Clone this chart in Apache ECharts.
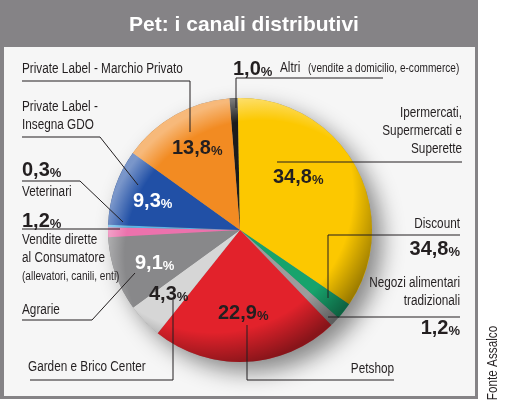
<!DOCTYPE html>
<html>
<head>
<meta charset="utf-8">
<script src="https://cdn.jsdelivr.net/npm/echarts@6/dist/echarts.min.js"></script>
<style>
  html, body { margin: 0; padding: 0; background: #fff; }
  #echart { width: 510px; height: 403px; }
</style>
</head>
<body>
<div id="echart"></div>
<script>
// slices clockwise from the top
const names = [
  'Altri',
  'Ipermercati,\nSupermercati e\nSuperette',
  'Discount',
  'Negozi alimentari\ntradizionali',
  'Petshop',
  'Garden e Brico Center',
  'Agrarie',
  'Vendite dirette\nal Consumatore',
  'Veterinari',
  'Private Label -\nInsegna GDO',
  'Private Label - Marchio Privato'
];
// Discount slice is drawn small in the source, although its label reads 34,8
const values = [1.0, 34.8, 2.1, 1.2, 22.9, 4.3, 9.1, 1.2, 0.3, 9.3, 13.8];
const pctLabels = ['1,0', '34,8', '34,8', '1,2', '22,9', '4,3', '9,1', '1,2', '0,3', '9,3', '13,8'];
const notes = ['(vendite a domicilio, e-commerce)', '', '', '', '', '', '', '(allevatori, canili, enti)', '', '', ''];
const colors = ['#1c1c1c', '#fcc800', '#17a36c', '#9c9c9c', '#e2222b', '#d6d6d6',
  '#88888a', '#ec72ad', '#5ab4e6', '#2150a6', '#f28b22'];

const fontName = '"Liberation Sans Narrow", "Liberation Sans", sans-serif';
const fontPct = '"Liberation Sans", Arial, sans-serif';
// no narrow face installed, so squeeze the labels
const narrow = 0.84;

const layout = [
  { name: [280, 68, 'left'], pct: [233, 68, 'left'], line: [[236, 108], [236, 78], [383, 78]], note: [308, 69] },
  { name: [462, 131, 'right'], pct: [273, 176, 'left'], line: [[277, 162], [462, 162]] },
  { name: [460, 224, 'right'], pct: [460, 248, 'right'], line: [[328, 298], [328, 235], [460, 235]] },
  { name: [460, 292, 'right'], pct: [460, 327, 'right'], line: [[328, 317], [460, 317]] },
  { name: [394, 369, 'right'], pct: [218, 312, 'left'], line: [[247, 325], [247, 380], [394, 380]] },
  { name: [28, 367, 'left'], pct: [149, 293, 'left'], line: [[30, 380], [173, 380], [173, 300]] },
  { name: [22, 310, 'left'], pct: [135, 262, 'left', '#fff'], line: [[22, 320], [92, 320], [135, 273]] },
  { name: [22, 249, 'left'], pct: [22, 220, 'left'], line: [[22, 229], [120, 229]], note: [22, 277] },
  { name: [22, 192, 'left'], pct: [22, 169, 'left'], line: [[22, 181], [80, 181], [123, 222]] },
  { name: [22, 116, 'left'], pct: [133, 200, 'left', '#fff'], line: [[22, 137], [100, 137], [138, 185]] },
  { name: [22, 69, 'left'], pct: [172, 147, 'left'], line: [[22, 81], [190, 81], [190, 132]] }
];

const graphics = [
  { type: 'rect', z: -10, shape: { x: 0, y: 0, width: 478, height: 399 }, style: { fill: '#858386' } },
  { type: 'rect', z: -9, shape: { x: 4, y: 47, width: 471, height: 349 }, style: { fill: '#f6f6f6' } },
  {
    type: 'text', x: 493, y: 363, rotation: Math.PI / 2, scaleX: narrow, z: 100,
    style: { text: 'Fonte Assalco', font: '14px ' + fontName, fill: '#231f20', align: 'center', verticalAlign: 'middle' }
  }
];

layout.forEach((l, i) => {
  graphics.push({
    type: 'polyline', z: 100,
    shape: { points: l.line },
    style: { stroke: '#231f20', lineWidth: 1, fill: null }
  });
  graphics.push({
    type: 'text', x: l.name[0], y: l.name[1], scaleX: narrow, z: 100,
    style: {
      text: names[i], font: '14px ' + fontName, fill: '#231f20',
      align: l.name[2], verticalAlign: 'middle', lineHeight: 18
    }
  });
  if (l.note) {
    graphics.push({
      type: 'text', x: l.note[0], y: l.note[1], scaleX: narrow, z: 100,
      style: { text: notes[i], font: '12px ' + fontName, fill: '#231f20', align: 'left', verticalAlign: 'middle' }
    });
  }
  const c = l.pct[3] || '#231f20';
  graphics.push({
    type: 'text', x: l.pct[0], y: l.pct[1], z: 100,
    style: {
      text: '{n|' + pctLabels[i] + '}{p|%}',
      align: l.pct[2], verticalAlign: 'middle',
      rich: {
        n: { fontFamily: fontPct, fontSize: 20, fontWeight: 'bold', fill: c, lineHeight: 22, verticalAlign: 'bottom' },
        p: { fontFamily: fontPct, fontSize: 13, fontWeight: 'bold', fill: c, lineHeight: 18, verticalAlign: 'bottom' }
      }
    }
  });
});

const chartDom = document.getElementById('echart');
const myChart = echarts.init(chartDom);
const center = [240, 230];
const radius = 132;

const option = {
  animation: false,
  title: {
    text: 'Pet: i canali distributivi',
    left: 239, top: 10, textAlign: 'center',
    textStyle: { color: '#fff', fontSize: 21, fontWeight: 'bold', fontFamily: fontPct }
  },
  graphic: graphics,
  series: [
    {
      // shadow under the pie
      type: 'pie', z: 1, silent: true, center, radius,
      label: { show: false }, labelLine: { show: false },
      itemStyle: {
        color: '#888', shadowBlur: 22, shadowOffsetX: 10, shadowOffsetY: 10,
        shadowColor: 'rgba(0,0,0,0.45)'
      },
      data: [{ value: 1 }]
    },
    {
      type: 'pie', z: 2, center, radius,
      startAngle: 94.6, clockwise: true,
      label: { show: false }, labelLine: { show: false },
      emphasis: { disabled: true },
      itemStyle: { borderWidth: 0 },
      data: values.map((v, i) => ({ name: names[i], value: v, itemStyle: { color: colors[i] } }))
    },
    {
      // dark rim bottom right
      type: 'pie', z: 3, silent: true, center, radius,
      label: { show: false }, labelLine: { show: false },
      itemStyle: {
        color: {
          type: 'radial', x: 0.4, y: 0.36, r: 0.66,
          colorStops: [
            { offset: 0, color: 'rgba(0,0,0,0)' },
            { offset: 0.8, color: 'rgba(0,0,0,0)' },
            { offset: 1, color: 'rgba(0,0,0,0.4)' }
          ]
        }
      },
      data: [{ value: 1 }]
    },
    {
      // light rim top left
      type: 'pie', z: 4, silent: true, center, radius,
      label: { show: false }, labelLine: { show: false },
      itemStyle: {
        color: {
          type: 'radial', x: 0.58, y: 0.6, r: 0.6,
          colorStops: [
            { offset: 0, color: 'rgba(255,255,255,0)' },
            { offset: 0.86, color: 'rgba(255,255,255,0)' },
            { offset: 1, color: 'rgba(255,255,255,0.4)' }
          ]
        }
      },
      data: [{ value: 1 }]
    }
  ]
};

option && myChart.setOption(option);
</script>
</body>
</html>
